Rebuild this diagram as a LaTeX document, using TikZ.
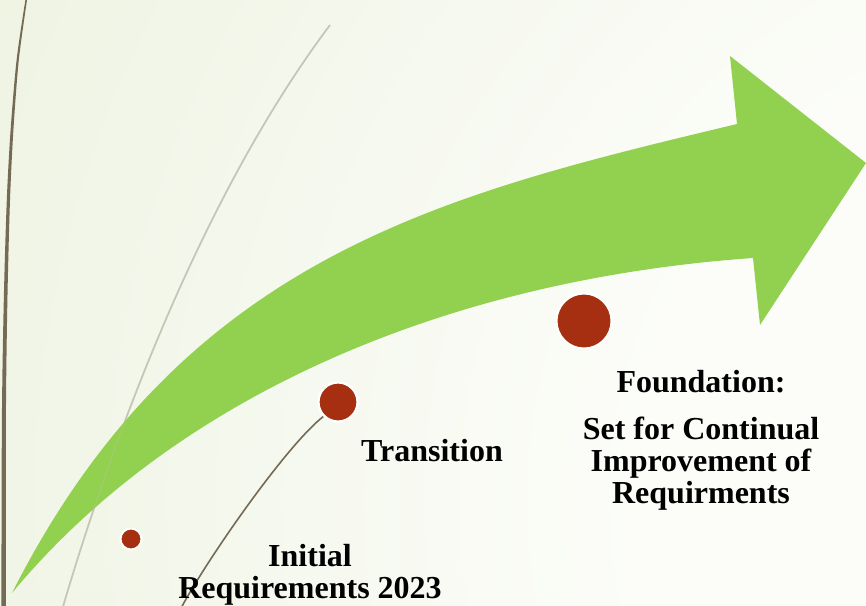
\documentclass[tikz,border=0pt]{standalone}
\usepackage{fontspec}
\setmainfont{Liberation Serif}
\begin{document}
\definecolor{bgwhite}{RGB}{252,253,249}
\definecolor{bggreen}{RGB}{216,228,190}
\definecolor{arrowgreen}{RGB}{146,208,80}
\definecolor{dotred}{RGB}{166,46,17}
\definecolor{stem}{RGB}{116,106,86}
\definecolor{reed}{RGB}{198,198,180}
\pgfdeclareradialshading{backglow}{\pgfpoint{0bp}{0bp}}{color(0bp)=(bgwhite); color(9bp)=(bgwhite); color(50bp)=(bggreen)}
\begin{tikzpicture}[x=1pt,y=-1pt,
  milestone/.style={circle, fill=dotred, draw=white, line width=2pt, inner sep=0pt},
  blocktext/.style={font=\fontsize{32}{32}\selectfont\bfseries, align=center, inner sep=0pt, anchor=base},
  reedline/.style={draw=reed, line width=1.7pt},
  ]
\useasboundingbox (0,0) rectangle (866,605);
\begin{scope}
  \clip (0,0) rectangle (866,605);
  % soft light background
  \shade[shading=backglow] (1100,500) circle (1250);
  % tall dark stem on the left edge, thin at the top and wider below
  \fill[stem] plot[smooth] coordinates {(27.0,0) (18.8,60) (13.4,130) (10.0,200) (7.4,300) (5.9,420) (6.0,610)}
     -- plot[smooth] coordinates {(1.4,610) (1.9,420) (3.8,300) (6.8,200) (10.6,130) (16.6,60) (25.4,0)} -- cycle;
  % pale reed behind the arrow
  \path[reedline] (330,25) .. controls (210,185) and (120,413) .. (62,610);
  % curved green arrow
  \fill[arrowgreen] (12,593) .. controls (183,255) and (445,194) .. (737,124)
     -- (730,56) -- (866,163) -- (760,325) -- (753,258)
     .. controls (440,280) and (172,400) .. (12,593) -- cycle;
  % the reed shows faintly through the arrow
  \path[reedline, opacity=0.2] (330,25) .. controls (210,185) and (120,413) .. (62,610);
\end{scope}

% milestones
\node[milestone, minimum size=21pt] (dinit) at (131,539) {};
\coordinate (stemend) at (179,612);
\draw[stem, line width=1.6pt] (338,402) ++(-14,14) coordinate (stemstart)
  (stemstart) .. controls (287,444) and (203,565) .. (stemend);
\node[milestone, minimum size=39pt, line width=2.2pt] (dtrans) at (338,402) {};
\node[milestone, minimum size=55pt] (dfound) at (584,321) {};

% captions (base anchor sits on the last line)
\node[blocktext] (tinit) at (310,598) {Initial\\Requirements 2023};
\node[blocktext] (ttrans) at (432,461) {Transition};
\node[blocktext] (tfound) at (701,503) {Foundation:\\[14.5pt]Set for Continual\\Improvement of\\Requirments};
\end{tikzpicture}
\end{document}
